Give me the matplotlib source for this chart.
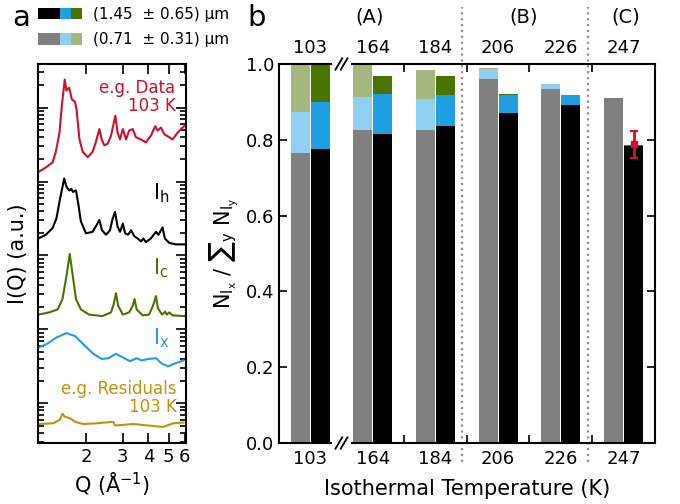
import numpy as np
import matplotlib.pyplot as plt
from matplotlib.patches import Rectangle
from matplotlib.ticker import LogLocator, NullFormatter, FixedLocator, NullLocator

# ---- panel a : curves (Q in 1/A, level = log10 of intensity, offset stacked)
q_data = [1.18, 1.28, 1.38, 1.43, 1.49, 1.53, 1.58, 1.61, 1.66, 1.71, 1.77, 1.80, 1.86, 1.93,
          2.04, 2.15, 2.23, 2.32, 2.38, 2.45, 2.54, 2.64, 2.77, 2.84, 2.92, 3.01, 3.12, 3.23,
          3.36, 3.48, 3.68, 3.89, 4.11, 4.32, 4.43, 4.60, 4.77, 5.04, 5.23, 5.53, 5.74, 5.95]
lv_data = [3.13, 3.19, 3.26, 3.40, 3.66, 4.03, 4.38, 4.23, 4.27, 4.11, 4.08, 3.98, 3.57, 3.40,
           3.33, 3.40, 3.53, 3.71, 3.57, 3.49, 3.51, 3.62, 3.89, 3.66, 3.57, 3.71, 3.57, 3.69,
           3.71, 3.60, 3.57, 3.53, 3.62, 3.75, 3.69, 3.73, 3.64, 3.60, 3.57, 3.66, 3.71, 3.75]

q_h = [1.18, 1.28, 1.38, 1.44, 1.50, 1.57, 1.61, 1.66, 1.70, 1.73, 1.79, 1.84, 1.89, 2.00,
       2.15, 2.25, 2.32, 2.39, 2.50, 2.61, 2.69, 2.76, 2.84, 2.92, 3.01, 3.09, 3.19, 3.30,
       3.42, 3.55, 3.68, 3.78, 3.89, 4.11, 4.35, 4.47, 4.68, 4.80, 5.04, 5.43, 5.95]
lv_h = [2.23, 2.28, 2.37, 2.50, 2.77, 3.04, 2.93, 2.88, 2.90, 2.86, 2.88, 2.68, 2.46, 2.30,
        2.32, 2.41, 2.48, 2.34, 2.28, 2.34, 2.50, 2.59, 2.39, 2.32, 2.43, 2.30, 2.28, 2.34,
        2.26, 2.23, 2.19, 2.23, 2.18, 2.23, 2.32, 2.28, 2.38, 2.23, 2.17, 2.15, 2.15]

q_c = [1.18, 1.33, 1.46, 1.54, 1.61, 1.67, 1.72, 1.79, 1.89, 2.07, 2.40, 2.64, 2.72, 2.79,
       2.86, 3.01, 3.23, 3.36, 3.43, 3.51, 3.75, 4.03, 4.21, 4.35, 4.44, 4.65, 4.82, 4.90,
       5.04, 5.23, 5.95]
lv_c = [1.20, 1.23, 1.27, 1.41, 1.72, 2.02, 1.76, 1.41, 1.27, 1.20, 1.18, 1.23, 1.34, 1.49,
        1.32, 1.20, 1.23, 1.32, 1.41, 1.27, 1.19, 1.20, 1.32, 1.45, 1.29, 1.20, 1.24, 1.20,
        1.23, 1.19, 1.18]

q_x = [1.19, 1.29, 1.44, 1.61, 1.77, 1.94, 2.17, 2.38, 2.56, 2.79, 2.97, 3.26, 3.51, 3.71,
       3.99, 4.35, 4.63, 4.98, 5.37, 5.90]
lv_x = [0.76, 0.80, 0.89, 0.95, 0.91, 0.80, 0.67, 0.60, 0.61, 0.67, 0.63, 0.57, 0.61, 0.58,
        0.60, 0.61, 0.54, 0.50, 0.54, 0.58]

q_res = [1.19, 1.39, 1.50, 1.54, 1.58, 1.67, 1.77, 1.94, 2.25, 2.71, 2.76, 3.38, 4.71, 5.26, 5.90]
lv_res = [-0.28, -0.27, -0.22, -0.14, -0.18, -0.20, -0.25, -0.28, -0.27, -0.25, -0.30, -0.28,
          -0.32, -0.27, -0.26]

# ---- panel b : fractions
temps = ['103', '164', '184', '206', '226', '247']
small_h = [0.765, 0.826, 0.826, 0.961, 0.934, 0.909]
small_x = [0.109, 0.086, 0.082, 0.025, 0.012, 0.0]
small_c = [0.126, 0.088, 0.077, 0.003, 0.002, 0.002]
large_h = [0.776, 0.816, 0.837, 0.871, 0.893, 0.784]
large_x = [0.124, 0.106, 0.082, 0.048, 0.024, 0.0]
large_c = [0.100, 0.047, 0.050, 0.002, 0.002, 0.002]
err_val = 0.788
err_size = 0.035
regions = ['(A)', '(B)', '(C)']

RED = '#d0102c'
GOLD = '#c98f0a'
GREEN = '#487400'
BLUE = '#1e9fe2'
LBLUE = '#8ecff2'
LGREEN = '#a3b87c'
GREY = '#808080'

fig = plt.figure(figsize=(6.8, 5.04), dpi=100)

# ---------------- panel a
axa = fig.add_axes([0.0559, 0.121, 0.2176, 0.752])
axa.set_xscale('log')
axa.set_yscale('log')
for q, lv, c in [(q_data, lv_data, RED), (q_h, lv_h, 'black'), (q_c, lv_c, GREEN),
                 (q_x, lv_x, BLUE), (q_res, lv_res, GOLD)]:
    axa.plot(q, 10 ** np.array(lv), color=c, lw=1.5)
axa.set_xlim(1.174, 6.07)
axa.set_ylim(10 ** -0.537, 10 ** 4.59)
axa.xaxis.set_major_locator(FixedLocator([2, 3, 4, 5, 6]))
axa.set_xticklabels(['2', '3', '4', '5', '6'])
axa.xaxis.set_minor_locator(NullLocator())
axa.yaxis.set_major_locator(LogLocator(base=10, numticks=12))
axa.yaxis.set_minor_locator(LogLocator(base=10, subs=np.arange(2, 10) * 1.0, numticks=12))
axa.yaxis.set_major_formatter(NullFormatter())
axa.yaxis.set_minor_formatter(NullFormatter())
axa.tick_params(which='both', direction='in', top=True, right=True, labelsize=13, width=1.2)
axa.tick_params(which='major', length=7)
axa.tick_params(which='minor', length=4)
for s in axa.spines.values():
    s.set_linewidth(1.5)
axa.set_xlabel('Q (Å$^{-1}$)', fontsize=15, labelpad=3)
axa.set_ylabel('I(Q) (a.u.)', fontsize=15, labelpad=4)

axa.text(0.93, 0.913, 'e.g. Data\n103 K', color=RED, fontsize=12, ha='right', va='center',
         transform=axa.transAxes, linespacing=1.0)
axa.text(0.775, 0.66, r'$\mathregular{I_h}$', color='black', fontsize=15, ha='left', va='center',
         transform=axa.transAxes)
axa.text(0.78, 0.462, r'$\mathregular{I_c}$', color=GREEN, fontsize=15, ha='left', va='center',
         transform=axa.transAxes)
axa.text(0.78, 0.277, r'$\mathregular{I_x}$', color=BLUE, fontsize=15, ha='left', va='center',
         transform=axa.transAxes)
axa.text(0.937, 0.12, 'e.g. Residuals\n103 K', color=GOLD, fontsize=12, ha='right', va='center',
         transform=axa.transAxes, linespacing=1.0)

# ---------------- panel b
axb = fig.add_axes([0.410, 0.121, 0.553, 0.752])
x = np.arange(len(temps))
w = 0.30
sb1 = np.add(small_h, small_x)
lb1 = np.add(large_h, large_x)
axb.bar(x - 0.16, small_h, w, color=GREY)
axb.bar(x - 0.16, small_x, w, bottom=small_h, color=LBLUE)
axb.bar(x - 0.16, small_c, w, bottom=sb1, color=LGREEN)
axb.bar(x + 0.16, large_h, w, color='black')
axb.bar(x + 0.16, large_x, w, bottom=large_h, color=BLUE)
axb.bar(x + 0.16, large_c, w, bottom=lb1, color=GREEN)
axb.errorbar(x[-1] + 0.16, err_val, yerr=err_size, fmt='s', color=RED, ms=5,
             capsize=3, elinewidth=2, capthick=1.5, zorder=6)

axb.set_xlim(-0.5, 5.5)
axb.set_ylim(0, 1)
axb.set_xticks(x)
axb.set_xticklabels(temps)
axb.set_xticks([1.5, 2.5, 3.5, 4.5], minor=True)
axb.tick_params(axis='x', which='major', length=0, top=True, labeltop=True, labelsize=13, pad=5)
axb.tick_params(axis='x', which='minor', length=6, width=1.2, direction='in', top=True, bottom=True)
axb.set_yticks(np.arange(0, 1.01, 0.2))
axb.set_yticklabels(['%.1f' % v for v in np.arange(0, 1.01, 0.2)])
axb.tick_params(axis='y', direction='in', right=True, length=6, width=1.2, labelsize=13)
for s in axb.spines.values():
    s.set_linewidth(1.5)

for xv in [2.42, 4.43]:
    axb.plot([xv, xv], [-0.05, 1.15], ls=':', color='#909090', lw=1.6, clip_on=False)

for xr, lab in zip([0.95, 3.40, 5.04], regions):
    axb.text(xr, 1.125, lab, ha='center', va='center', fontsize=14)

# axis break marks at the top and bottom spines
bx = 1.0 / 6.0
for yb in (0.0, 1.0):
    axb.plot([bx - 0.02, bx + 0.02], [yb, yb], color='white', lw=3,
             transform=axb.transAxes, clip_on=False, zorder=7)
    for dx in (-0.007, 0.007):
        axb.plot([bx + dx - 0.009, bx + dx + 0.009], [yb - 0.015, yb + 0.015], color='black',
                 lw=1.3, transform=axb.transAxes, clip_on=False, zorder=8)

axb.set_xlabel('Isothermal Temperature (K)', fontsize=15, labelpad=8)
axb.set_ylabel('N$_{\\mathrm{I_x}}$ / ∑$_\\mathrm{y}$ N$_{\\mathrm{I_y}}$', fontsize=15)
axb.yaxis.set_label_coords(-0.1, 0.5)

# ---------------- size legend + panel letters
legend_rows = [(['black', 'black', BLUE, GREEN], 0.9623, 0.0212, '(1.45  ± 0.65) μm', 0.972),
               ([GREY, GREY, LBLUE, LGREEN], 0.9107, 0.0232, '(0.71  ± 0.31) μm', 0.9226)]
for cols, yb, hh, txt, yt in legend_rows:
    for i, c in enumerate(cols):
        fig.add_artist(Rectangle((0.0554 + i * 0.0164, yb), 0.0164, hh,
                                 transform=fig.transFigure, color=c, lw=0))
    fig.text(0.1368, yt, txt, fontsize=11, va='center')

fig.text(0.018, 0.964, 'a', fontsize=21, va='center')
fig.text(0.364, 0.964, 'b', fontsize=21, va='center')

fig.savefig('out.png', dpi=100)
